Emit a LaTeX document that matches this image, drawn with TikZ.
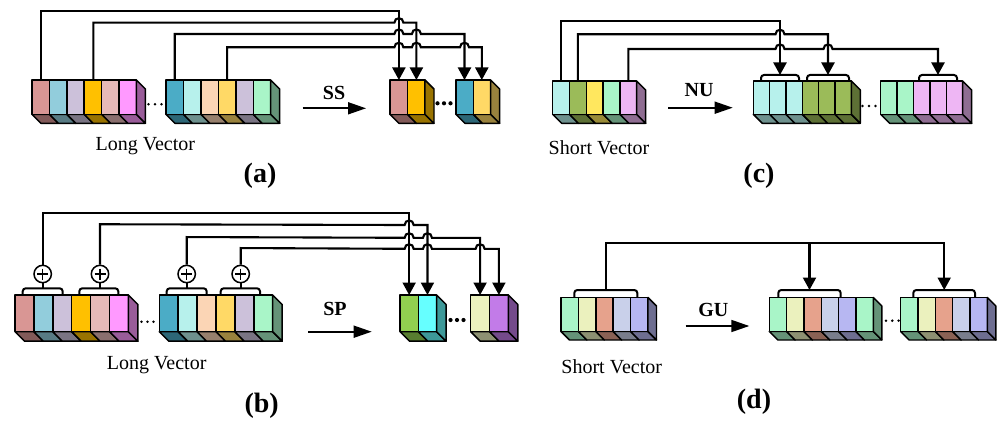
\documentclass[tikz,border=0pt]{standalone}
\usepackage{fontspec}
\setmainfont{Liberation Serif}
\usetikzlibrary{arrows.meta}
\definecolor{pA}{HTML}{D99694}
\definecolor{pB}{HTML}{92CDDC}
\definecolor{pC}{HTML}{CCC1DA}
\definecolor{pD}{HTML}{FFC000}
\definecolor{pE}{HTML}{E6B9B8}
\definecolor{pF}{HTML}{FF99FF}
\definecolor{qA}{HTML}{4BACC6}
\definecolor{qB}{HTML}{B7F1EC}
\definecolor{qC}{HTML}{FBD5B5}
\definecolor{qD}{HTML}{FFD966}
\definecolor{qE}{HTML}{A9F5C8}
\definecolor{rB}{HTML}{9BBB59}
\definecolor{rC}{HTML}{FFE75E}
\definecolor{rE}{HTML}{EEB6F4}
\definecolor{sA}{HTML}{92D050}
\definecolor{sB}{HTML}{66FFFF}
\definecolor{sC}{HTML}{EBF1BE}
\definecolor{sD}{HTML}{C27BE8}
\definecolor{tC}{HTML}{E6A28C}
\definecolor{tD}{HTML}{C9D0EA}
\definecolor{tE}{HTML}{B7B7F2}
% #1 x0, #2 ytop, #3 w, #4 h, #5 depth, #6 colours, #7 n, #8 side colour
\newcommand{\vecbox}[8]{%
  \foreach \cc [count=\i from 0] in {#6}{
    \filldraw[cellline, fill=\cc!60!black] (#1+\i*#3,#2+#4) -- ++(#3,0) -- ++(#5,#5) -- ++(-#3,0) -- cycle;
    \filldraw[cellline, fill=\cc] (#1+\i*#3,#2) rectangle ++(#3,#4);
  }
  \filldraw[cellline, fill=#8!60!black] (#1+#7*#3,#2) -- ++(#5,#5) -- ++(0,#4) -- ++(-#5,-#5) -- cycle;
}
\begin{document}
\begin{tikzpicture}[x=1pt,y=-1pt,
  cellline/.style={line width=1.45pt, line join=round},
  conn/.style={line width=2.1pt, -{Triangle[length=12.5pt,width=13pt]}},
  wire/.style={line width=2.1pt},
  brk/.style={line width=2pt, rounded corners=3pt},
  bigarr/.style={line width=1.7pt, -{Triangle[length=18pt,width=12pt]}},
  hopat/.style args={#1/#2}{insert path={-- (#1-4.5,#2) .. controls (#1-4.5,#2-6) and (#1+4.5,#2-6) .. (#1+4.5,#2)}},
  lbltxt/.style={font=\fontsize{20}{24}\selectfont, inner sep=0pt},
  captxt/.style={font=\bfseries\fontsize{28}{32}\selectfont, inner sep=0pt},
  optxt/.style={font=\bfseries\fontsize{20}{24}\selectfont, inner sep=0pt},
  oplus/.style={circle, draw, fill=white, line width=1.5pt, minimum size=17.4pt, inner sep=0pt},
  dotfill/.style={fill=black}
]
\fill[white] (0,0) rectangle (998,425);
\useasboundingbox (0,0) rectangle (998,425);

% ================= (a) =================
\coordinate (a-s1) at (40.7,80);
\coordinate (a-s2) at (93.3,80);
\coordinate (a-s3) at (174.7,80);
\coordinate (a-s4) at (227.1,80);
\coordinate (a-t1) at (398.9,80);
\coordinate (a-t2) at (416.4,80);
\coordinate (a-t3) at (464.5,80);
\coordinate (a-t4) at (481.8,80);
\draw[conn] (a-s1) -- ++(0,-69.3) -| (a-t1);
\draw[conn] (a-s2) -- ++(0,-57.3) [hopat=398.9/22.7] -| (a-t2);
\draw[conn] (a-s3) -- ++(0,-46) [hopat=398.9/34][hopat=416.4/34] -| (a-t3);
\draw[conn] (a-s4) -- ++(0,-32.7) [hopat=398.9/47.3][hopat=416.4/47.3][hopat=464.5/47.3] -| (a-t4);
\vecbox{32}{80}{17.4}{34.3}{9}{pA,pB,pC,pD,pE,pF}{6}{pF}
\vecbox{166}{80}{17.45}{34.3}{9}{qA,qB,qC,qD,pC,qE}{6}{qE}
\vecbox{390}{80}{17.5}{34.3}{9}{pA,pD}{2}{pD}
\vecbox{456}{80}{17.3}{34.3}{9}{qA,qD}{2}{qD}
\foreach \x in {148.5,155,161.5} \fill[dotfill] (\x,104.3) circle[radius=1.4pt];
\foreach \x in {437.5,444,450.5} \fill[dotfill] (\x,103.3) circle[radius=2.1pt];
\coordinate (ssA) at (302.7,108.3);
\coordinate (ssB) at (366,108.3);
\draw[bigarr] (ssA) -- (ssB);
\node[optxt] (ss) at (334,93) {SS};
\node[lbltxt] (lva) at (145.3,146) {Long Vector};
\node[captxt] (capa) at (260,176) {(a)};

% ================= (c) =================
\coordinate (c-s1) at (561.1,81);
\coordinate (c-s2) at (577.9,81);
\coordinate (c-s3) at (628.3,81);
\coordinate (c-t1) at (780,75);
\coordinate (c-t2) at (828,75);
\coordinate (c-t3) at (938,75);
\draw[conn] (c-s1) -- ++(0,-60) -| (c-t1);
\draw[conn] (c-s2) -- ++(0,-46.7) [hopat=780/34.3] -| (c-t2);
\draw[conn] (c-s3) -- ++(0,-32) [hopat=780/49][hopat=828/49] -| (c-t3);
\draw[brk] (761,81) -- (761,75) -- (799,75) -- (799,81);
\draw[brk] (807,81) -- (807,75) -- (849,75) -- (849,81);
\draw[brk] (919,81) -- (919,75) -- (957,75) -- (957,81);
\vecbox{552.7}{81}{16.8}{33.3}{9}{qB,rB,rC,qE,rE}{5}{rE}
\vecbox{753.3}{81}{16.33}{33.3}{9}{qB,qB,qB,rB,rB,rB}{6}{rB}
\vecbox{880.7}{81}{16.4}{33.3}{9}{qE,qE,rE,rE,rE}{5}{rE}
\foreach \x in {862.5,869,875.5} \fill[dotfill] (\x,106) circle[radius=1.4pt];
\coordinate (nuA) at (668.3,107.7);
\coordinate (nuB) at (732.7,107.7);
\draw[bigarr] (nuA) -- (nuB);
\node[optxt] (nu) at (699,90) {NU};
\node[lbltxt] (svc) at (599,148) {Short Vector};
\node[captxt] (capc) at (759,176) {(c)};

% ================= (b) =================
\node[oplus] (b-p1) at (42.7,274) {};
\node[oplus] (b-p2) at (100,274) {};
\node[oplus] (b-p3) at (186.7,274) {};
\node[oplus] (b-p4) at (240.7,274) {};
\foreach \n in {b-p1,b-p2,b-p3,b-p4}{
  \draw[line width=1.2pt] (\n.center) ++(-5.5,0) -- ++(11,0);
  \draw[line width=1.2pt] (\n.center) ++(0,-5.5) -- ++(0,11);
}
\coordinate (b-b1) at (42.7,288.3);
\coordinate (b-b2) at (100,288.3);
\coordinate (b-b3) at (186.7,288.3);
\coordinate (b-b4) at (240.7,288.3);
\draw[brk] (22.7,295) -- (22.7,288.3) -- (62.7,288.3) -- (62.7,295);
\draw[brk] (79.3,295) -- (79.3,288.3) -- (118.3,288.3) -- (118.3,295);
\draw[brk] (166.7,295) -- (166.7,288.3) -- (206.7,288.3) -- (206.7,295);
\draw[brk] (220.7,295) -- (220.7,288.3) -- (260,288.3) -- (260,295);
\foreach \i in {1,2,3,4} \draw[wire] (b-b\i) -- (b-p\i);
\coordinate (b-t1) at (409.15,295);
\coordinate (b-t2) at (427.45,295);
\coordinate (b-t3) at (480.1,295);
\coordinate (b-t4) at (498.9,295);
\draw[conn] (b-p1.north) -- ++(0,-52) -| (b-t1);
\draw[conn] (b-p2.north) -- ++(0,-40.3) [hopat=409.15/225] -| (b-t2);
\draw[conn] (b-p3.north) -- ++(0,-27.5) [hopat=409.15/237.8][hopat=427.45/237.8] -| (b-t3);
\draw[conn] (b-p4.north) -- ++(0,-16.5) [hopat=409.15/248.8][hopat=427.45/248.8][hopat=480.1/248.8] -| (b-t4);
\vecbox{15}{295}{18.9}{36.7}{9.5}{pA,pB,pC,pD,pE,pF}{6}{pF}
\vecbox{159.3}{295}{18.9}{36.7}{9.5}{qA,qB,qC,qD,pC,qE}{6}{qE}
\vecbox{400}{295}{18.3}{36.7}{9.5}{sA,sB}{2}{sB}
\vecbox{470.7}{295}{18.8}{36.7}{9.5}{sC,sD}{2}{sD}
\foreach \x in {141.5,147.5,153.5} \fill[dotfill] (\x,321.7) circle[radius=1.4pt];
\foreach \x in {450.5,457,463.5} \fill[dotfill] (\x,320) circle[radius=2.1pt];
\coordinate (spA) at (308.3,331.7);
\coordinate (spB) at (371.7,331.7);
\draw[bigarr] (spA) -- (spB);
\node[optxt] (sp) at (335,309) {SP};
\node[lbltxt] (lvb) at (156.7,365) {Long Vector};
\node[captxt] (capb) at (261.7,406) {(b)};

% ================= (d) =================
\coordinate (d-s) at (605.8,290);
\coordinate (d-j) at (809.5,242.7);
\coordinate (d-t1) at (809.5,290);
\coordinate (d-t2) at (944.2,290);
\draw[brk] (574.3,297.5) -- (574.3,290) -- (637.3,290) -- (637.3,297.5);
\draw[brk] (778.3,297.5) -- (778.3,290) -- (840.7,290) -- (840.7,297.5);
\draw[brk] (913.3,297.5) -- (913.3,290) -- (975,290) -- (975,297.5);
\draw[conn] (d-s) -- ++(0,-47.3) -| (d-t2);
\draw[conn] (d-j) -- (d-t1);
\vecbox{561}{297.5}{17.4}{34}{8.5}{qE,sC,tC,tD,tE}{5}{tE}
\vecbox{769.3}{297.5}{17.33}{34}{8.5}{qE,sC,tC,tD,tE,qE}{6}{qE}
\vecbox{900.7}{297.5}{17.33}{34}{8.5}{qE,sC,tC,tD,tE}{5}{tE}
\foreach \x in {886,892.3,898.6} \fill[dotfill] (\x,320.7) circle[radius=1.4pt];
\coordinate (guA) at (685.7,326);
\coordinate (guB) at (749.3,326);
\draw[bigarr] (guA) -- (guB);
\node[optxt] (gu) at (713.3,310) {GU};
\node[lbltxt] (svd) at (611.7,367) {Short Vector};
\node[captxt] (capd) at (754,402) {(d)};
\end{tikzpicture}
\end{document}
